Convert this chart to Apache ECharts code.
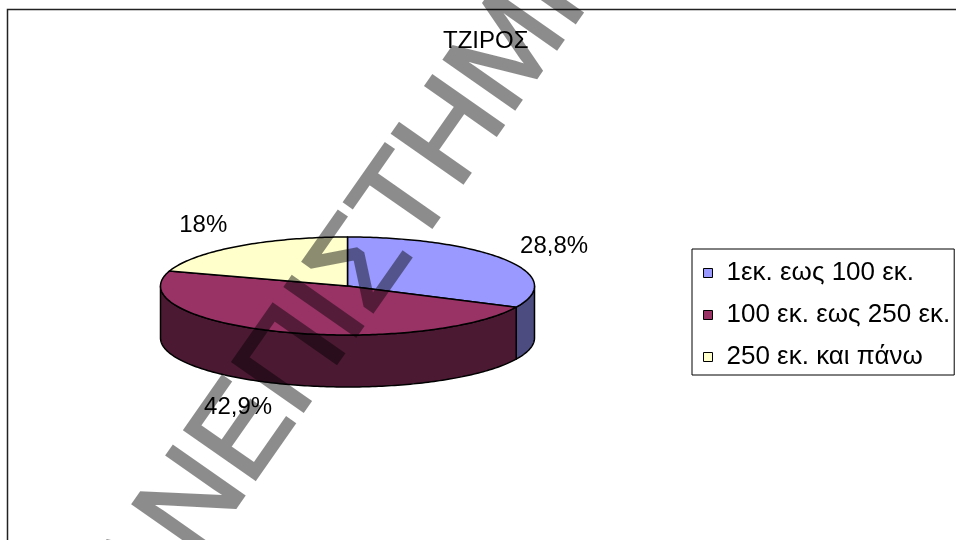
<!DOCTYPE html>
<html><head><meta charset="utf-8">
<script src="https://cdn.jsdelivr.net/npm/echarts@6/dist/echarts.min.js"></script>
<style>
html,body{margin:0;padding:0;background:#fff}
#wrap{position:relative;width:956px;height:540px}
#c,#wm{position:absolute;left:0;top:0;width:956px;height:540px}
#wm{opacity:0.45;pointer-events:none}
</style>
</head><body><div id="wrap"><div id="c"></div><div id="wm"></div></div><script>
// ---- data ----
const categories = ['1εκ. εως 100 εκ.', '100 εκ. εως 250 εκ.', '250 εκ. και πάνω'];
const values = [28.8, 42.9, 18];
const valueLabels = ['28,8%', '42,9%', '18%'];
const chartTitle = 'ΤΖΙΡΟΣ';
const watermarkText = 'ΠΑΝΕΠΙΣΤΗΜΙΟ';

// ---- style ----
const topColors = ['#9999FF', '#993366', '#FFFFCC'];
const sideColors = ['#4C4C80', '#4C1933', '#808066'];
const FONT = '"Liberation Sans", Arial, sans-serif';

const total = values.reduce((a, b) => a + b, 0);
const starts = [];
let acc = 0;
values.forEach(v => { starts.push(acc / total * 360); acc += v; });

const CX = 347.5, CY = 286, RX = 187, RY = 49, DEPTH = 52;
function pt(deg, dy) {
  const r = deg * Math.PI / 180;
  return [CX + RX * Math.sin(r), CY - RY * Math.cos(r) + (dy || 0)];
}
function arc(a0, a1, dy) {
  const out = [];
  const n = Math.max(2, Math.ceil(Math.abs(a1 - a0)));
  for (let k = 0; k <= n; k++) out.push(pt(a0 + (a1 - a0) * k / n, dy));
  return out;
}

function makeRender(i) {
  return function (params, api) {
    const v = api.value(0);
    const a0 = starts[i], a1 = a0 + v / total * 360;
    const children = [];
    const s0 = Math.max(a0, 90), s1 = Math.min(a1, 270);
    if (s1 > s0) {
      const pts = arc(s0, s1, 0).concat(arc(s1, s0, DEPTH));
      children.push({
        type: 'polygon', z2: 1, shape: { points: pts },
        style: { fill: sideColors[i], stroke: '#000', lineWidth: 1.5, lineJoin: 'round' }
      });
    }
    const topPts = [[CX, CY]].concat(arc(a0, a1, 0));
    children.push({
      type: 'polygon', z2: 5, shape: { points: topPts },
      style: { fill: topColors[i], stroke: '#000', lineWidth: 1.5, lineJoin: 'round' }
    });
    const mid = (a0 + a1) / 2 * Math.PI / 180;
    const sx = Math.sin(mid), cy = Math.cos(mid);
    children.push({
      type: 'text', z2: 10,
      style: {
        text: valueLabels[i],
        x: CX + 204 * sx, y: CY - 75 * cy + (cy < 0 ? DEPTH : 0),
        align: sx >= 0 ? 'left' : 'right', verticalAlign: 'middle',
        font: '24px ' + FONT, fill: '#000'
      }
    });
    return { type: 'group', children: children };
  };
}

const chart = echarts.init(document.getElementById('c'));
chart.setOption({
  backgroundColor: '#fff',
  animation: false,
  title: {
    text: chartTitle, left: 443, top: 29, padding: 0,
    textStyle: { fontFamily: FONT, fontSize: 24, fontWeight: 'normal', color: '#000' }
  },
  legend: {
    orient: 'vertical', left: 692, top: 249,
    data: categories, icon: 'rect', itemWidth: 9, itemHeight: 9, itemGap: 16,
    padding: [11, 4, 5, 11], borderColor: '#000', borderWidth: 1,
    selectedMode: false,
    itemStyle: { borderColor: '#000', borderWidth: 1 },
    textStyle: { fontFamily: FONT, fontSize: 26, color: '#000', padding: [0, 0, 0, 9] }
  },
  graphic: [
    {
      type: 'rect', z: 0, silent: true,
      shape: { x: 7.5, y: 9.5, width: 1200, height: 800 },
      style: { fill: 'none', stroke: '#222', lineWidth: 1.5 }
    }
  ],
  series: categories.map((name, i) => ({
    type: 'custom', name: name, coordinateSystem: 'none',
    itemStyle: { color: topColors[i] },
    data: [[values[i]]],
    renderItem: makeRender(i)
  }))
});

// translucent watermark layer (drawn solid, faded by the layer opacity)
const wm = echarts.init(document.getElementById('wm'));
wm.setOption({
  animation: false,
  graphic: [{
    type: 'text', silent: true,
    x: 70, y: 684, rotation: 55 * Math.PI / 180,
    style: {
      text: watermarkText, x: 0, y: 0, align: 'left', verticalAlign: 'middle',
      font: '125px ' + FONT, fill: '#000', stroke: '#000', lineWidth: 3
    }
  }]
});
</script></body></html>
